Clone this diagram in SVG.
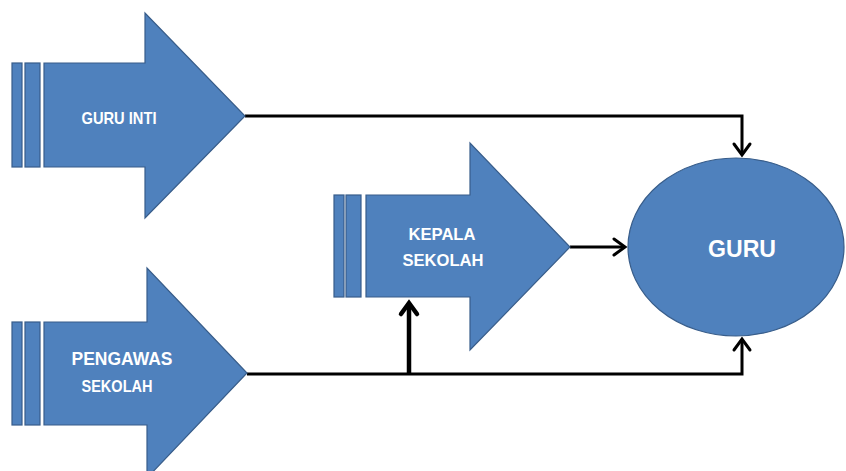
<svg xmlns="http://www.w3.org/2000/svg" width="846" height="471" viewBox="0 0 846 471">
  <defs>
    <style>
      .shape { fill: #4f81bd; stroke: #385d8a; stroke-width: 1.2; }
      .bar { fill: #4f81bd; stroke: #385d8a; stroke-width: 1.2; }
      .lbl { font-family: "Liberation Sans", Arial, sans-serif; font-weight: bold; fill: #ffffff; text-anchor: middle; }
      .conn { fill: none; stroke: #000000; stroke-width: 3; stroke-linejoin: miter; }
      .thick { stroke-width: 4.5; }
    </style>
    <marker id="chev" markerUnits="userSpaceOnUse" markerWidth="30" markerHeight="30" viewBox="-15 -15 30 30" refX="0" refY="0" orient="auto" overflow="visible">
      <path d="M-11,-8 L0,0 L-11,8" fill="none" stroke="#000000" stroke-width="3" stroke-linecap="round" stroke-linejoin="miter"/>
    </marker>
    <marker id="chevThick" markerUnits="userSpaceOnUse" markerWidth="30" markerHeight="30" viewBox="-15 -15 30 30" refX="0" refY="0" orient="auto" overflow="visible">
      <path d="M-11,-8 L0,0 L-11,8" fill="none" stroke="#000000" stroke-width="4.5" stroke-linecap="round" stroke-linejoin="miter"/>
    </marker>
  </defs>
  <rect width="846" height="471" fill="#ffffff"/>

  <g id="connectors">
    <path class="conn" d="M245,116 H742 V155" marker-end="url(#chev)"/>
    <path class="conn" d="M570,247 H625" marker-end="url(#chev)"/>
    <path class="conn" d="M247,374 H742 V339" marker-end="url(#chev)"/>
    <path class="conn thick" d="M409,374 V303" marker-end="url(#chevThick)"/>
  </g>

  <g id="guru-inti">
    <rect class="bar" x="12" y="63" width="10" height="104"/>
    <rect class="bar" x="25" y="63" width="15" height="104"/>
    <path class="shape" d="M44,63 H145 V13 L245,116 L145,218 V167 H44 Z"/>
    <text class="lbl" x="119" y="124" font-size="17" textLength="75" lengthAdjust="spacingAndGlyphs">GURU INTI</text>
  </g>

  <g id="kepala-sekolah">
    <rect class="bar" x="334" y="195" width="10" height="102"/>
    <rect class="bar" x="346" y="195" width="15" height="102"/>
    <path class="shape" d="M366,195 H470 V143 L570,247 L470,350 V297 H366 Z"/>
    <text class="lbl" x="442" y="240" font-size="17" textLength="67" lengthAdjust="spacingAndGlyphs">KEPALA</text>
    <text class="lbl" x="443" y="266" font-size="17" textLength="81" lengthAdjust="spacingAndGlyphs">SEKOLAH</text>
  </g>

  <g id="pengawas-sekolah">
    <rect class="bar" x="12" y="322" width="10" height="103"/>
    <rect class="bar" x="25" y="322" width="15" height="103"/>
    <path class="shape" d="M44,322 H147 V268 L247,373 L147,478 V425 H44 Z"/>
    <text class="lbl" x="122" y="365" font-size="18" textLength="101" lengthAdjust="spacingAndGlyphs">PENGAWAS</text>
    <text class="lbl" x="117" y="392" font-size="17" textLength="71" lengthAdjust="spacingAndGlyphs">SEKOLAH</text>
  </g>

  <g id="guru">
    <ellipse class="shape" cx="736" cy="247" rx="108" ry="89" stroke-width="1.6"/>
    <text class="lbl" x="742" y="257" font-size="24" textLength="68" lengthAdjust="spacingAndGlyphs">GURU</text>
  </g>
</svg>
